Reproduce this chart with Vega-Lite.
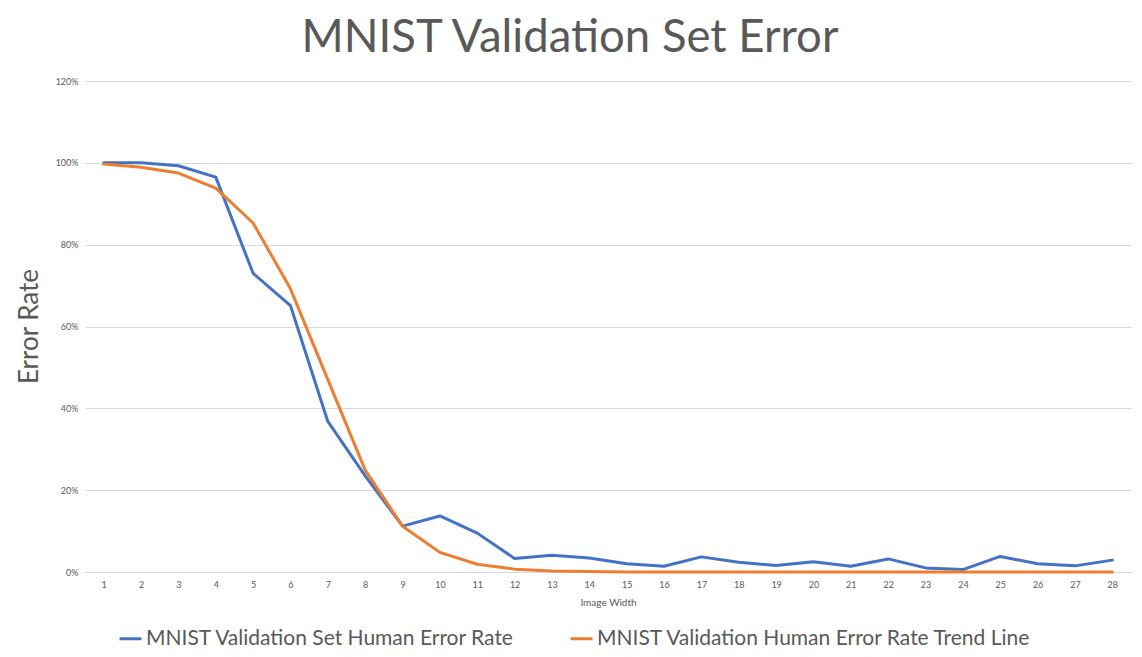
{
  "$schema": "https://vega.github.io/schema/vega-lite/v6.json",
  "autosize": "none",
  "width": 1046,
  "height": 491,
  "padding": {"left": 85, "top": 81, "right": 11, "bottom": 85},
  "background": "white",
  "config": {
    "font": "Lato",
    "view": {"stroke": null}
  },
  "title": {
    "text": "MNIST Validation Set Error",
    "fontSize": 45.5,
    "font": "Lato",
    "fontWeight": "normal",
    "color": "#595959",
    "anchor": "middle",
    "dx": -38,
    "offset": 16
  },
  "data": {
    "values": [
      {"width": 1, "series": "MNIST Validation Set Human Error Rate", "rate": 1.0},
      {"width": 2, "series": "MNIST Validation Set Human Error Rate", "rate": 1.0},
      {"width": 3, "series": "MNIST Validation Set Human Error Rate", "rate": 0.993},
      {"width": 4, "series": "MNIST Validation Set Human Error Rate", "rate": 0.965},
      {"width": 5, "series": "MNIST Validation Set Human Error Rate", "rate": 0.73},
      {"width": 6, "series": "MNIST Validation Set Human Error Rate", "rate": 0.651},
      {"width": 7, "series": "MNIST Validation Set Human Error Rate", "rate": 0.368},
      {"width": 8, "series": "MNIST Validation Set Human Error Rate", "rate": 0.235},
      {"width": 9, "series": "MNIST Validation Set Human Error Rate", "rate": 0.112},
      {"width": 10, "series": "MNIST Validation Set Human Error Rate", "rate": 0.137},
      {"width": 11, "series": "MNIST Validation Set Human Error Rate", "rate": 0.095},
      {"width": 12, "series": "MNIST Validation Set Human Error Rate", "rate": 0.033},
      {"width": 13, "series": "MNIST Validation Set Human Error Rate", "rate": 0.041},
      {"width": 14, "series": "MNIST Validation Set Human Error Rate", "rate": 0.034},
      {"width": 15, "series": "MNIST Validation Set Human Error Rate", "rate": 0.02},
      {"width": 16, "series": "MNIST Validation Set Human Error Rate", "rate": 0.014},
      {"width": 17, "series": "MNIST Validation Set Human Error Rate", "rate": 0.037},
      {"width": 18, "series": "MNIST Validation Set Human Error Rate", "rate": 0.024},
      {"width": 19, "series": "MNIST Validation Set Human Error Rate", "rate": 0.016},
      {"width": 20, "series": "MNIST Validation Set Human Error Rate", "rate": 0.025},
      {"width": 21, "series": "MNIST Validation Set Human Error Rate", "rate": 0.014},
      {"width": 22, "series": "MNIST Validation Set Human Error Rate", "rate": 0.032},
      {"width": 23, "series": "MNIST Validation Set Human Error Rate", "rate": 0.01},
      {"width": 24, "series": "MNIST Validation Set Human Error Rate", "rate": 0.006},
      {"width": 25, "series": "MNIST Validation Set Human Error Rate", "rate": 0.038},
      {"width": 26, "series": "MNIST Validation Set Human Error Rate", "rate": 0.02},
      {"width": 27, "series": "MNIST Validation Set Human Error Rate", "rate": 0.015},
      {"width": 28, "series": "MNIST Validation Set Human Error Rate", "rate": 0.029},
      {"width": 1, "series": "MNIST Validation Human Error Rate Trend Line", "rate": 0.997},
      {"width": 2, "series": "MNIST Validation Human Error Rate Trend Line", "rate": 0.989},
      {"width": 3, "series": "MNIST Validation Human Error Rate Trend Line", "rate": 0.975},
      {"width": 4, "series": "MNIST Validation Human Error Rate Trend Line", "rate": 0.938},
      {"width": 5, "series": "MNIST Validation Human Error Rate Trend Line", "rate": 0.853},
      {"width": 6, "series": "MNIST Validation Human Error Rate Trend Line", "rate": 0.692},
      {"width": 7, "series": "MNIST Validation Human Error Rate Trend Line", "rate": 0.47},
      {"width": 8, "series": "MNIST Validation Human Error Rate Trend Line", "rate": 0.249},
      {"width": 9, "series": "MNIST Validation Human Error Rate Trend Line", "rate": 0.112},
      {"width": 10, "series": "MNIST Validation Human Error Rate Trend Line", "rate": 0.048},
      {"width": 11, "series": "MNIST Validation Human Error Rate Trend Line", "rate": 0.019},
      {"width": 12, "series": "MNIST Validation Human Error Rate Trend Line", "rate": 0.007},
      {"width": 13, "series": "MNIST Validation Human Error Rate Trend Line", "rate": 0.0025},
      {"width": 14, "series": "MNIST Validation Human Error Rate Trend Line", "rate": 0.001},
      {"width": 15, "series": "MNIST Validation Human Error Rate Trend Line", "rate": 0.0003},
      {"width": 16, "series": "MNIST Validation Human Error Rate Trend Line", "rate": 0.0001},
      {"width": 17, "series": "MNIST Validation Human Error Rate Trend Line", "rate": 0.0},
      {"width": 18, "series": "MNIST Validation Human Error Rate Trend Line", "rate": 0.0},
      {"width": 19, "series": "MNIST Validation Human Error Rate Trend Line", "rate": 0.0},
      {"width": 20, "series": "MNIST Validation Human Error Rate Trend Line", "rate": 0.0},
      {"width": 21, "series": "MNIST Validation Human Error Rate Trend Line", "rate": 0.0},
      {"width": 22, "series": "MNIST Validation Human Error Rate Trend Line", "rate": 0.0},
      {"width": 23, "series": "MNIST Validation Human Error Rate Trend Line", "rate": 0.0},
      {"width": 24, "series": "MNIST Validation Human Error Rate Trend Line", "rate": 0.0},
      {"width": 25, "series": "MNIST Validation Human Error Rate Trend Line", "rate": 0.0},
      {"width": 26, "series": "MNIST Validation Human Error Rate Trend Line", "rate": 0.0},
      {"width": 27, "series": "MNIST Validation Human Error Rate Trend Line", "rate": 0.0},
      {"width": 28, "series": "MNIST Validation Human Error Rate Trend Line", "rate": 0.0}
    ]
  },
  "mark": {"type": "line", "strokeWidth": 3, "strokeJoin": "round", "strokeCap": "round"},
  "encoding": {
    "x": {
      "field": "width",
      "type": "ordinal",
      "scale": {"type": "point", "padding": 0.5},
      "axis": {
        "title": "Image Width",
        "titleFontSize": 10,
        "titleFontWeight": "normal",
        "titleColor": "#595959",
        "titlePadding": 8,
        "labelAngle": 0,
        "labelFontSize": 9,
        "labelColor": "#595959",
        "labelPadding": 8,
        "ticks": false,
        "domain": true,
        "domainColor": "#d9d9d9",
        "grid": false
      }
    },
    "y": {
      "field": "rate",
      "type": "quantitative",
      "scale": {"domain": [0, 1.2]},
      "axis": {
        "title": "Error Rate",
        "titleFontSize": 26,
        "titleFontWeight": "normal",
        "titleColor": "#595959",
        "titleX": -56,
        "titleY": 245,
        "titleAngle": 270,
        "titleBaseline": "middle",
        "titleAlign": "center",
        "values": [0, 0.2, 0.4, 0.6, 0.8, 1.0, 1.2],
        "format": ".0%",
        "labelFontSize": 9,
        "labelColor": "#595959",
        "labelPadding": 7,
        "ticks": false,
        "domain": false,
        "grid": true,
        "gridColor": "#d9d9d9",
        "gridWidth": 1
      }
    },
    "color": {
      "field": "series",
      "type": "nominal",
      "sort": ["MNIST Validation Set Human Error Rate", "MNIST Validation Human Error Rate Trend Line"],
      "scale": {
        "domain": ["MNIST Validation Set Human Error Rate", "MNIST Validation Human Error Rate Trend Line"],
        "range": ["#4472C4", "#ED7D31"]
      },
      "legend": {
        "title": null,
        "orient": "none",
        "direction": "horizontal",
        "legendX": 33,
        "legendY": 545,
        "symbolType": "stroke",
        "symbolSize": 484,
        "symbolStrokeWidth": 3,
        "labelFontSize": 21,
        "labelColor": "#595959",
        "labelLimit": 600,
        "labelOffset": 3,
        "columnPadding": 49
      }
    }
  }
}
